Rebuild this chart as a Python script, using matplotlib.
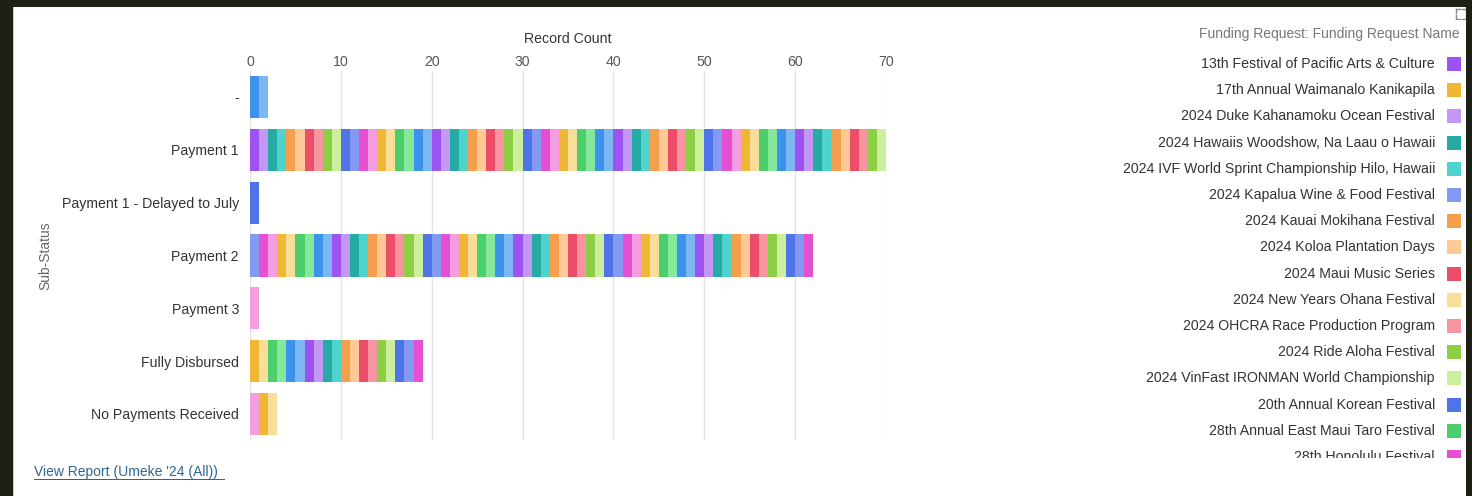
import matplotlib.pyplot as plt
from matplotlib.patches import Rectangle

plt.rcParams['font.family'] = ['Liberation Sans', 'DejaVu Sans']

# record counts per sub-status
sub_status = ['-', 'Payment 1', 'Payment 1 - Delayed to July', 'Payment 2',
              'Payment 3', 'Fully Disbursed', 'No Payments Received']
record_count = [2, 70, 1, 62, 1, 19, 3]

# chart palette, records are coloured in order through it
palette = ['#9d53f2', '#c398f5', '#26aba4', '#4ed4cd', '#f59e4e', '#fdc994',
           '#ec4e6a', '#f893a2', '#8ccf45', '#ccef9d', '#4f73e8', '#8399f2',
           '#e74fd3', '#f49de1', '#efb733', '#f8de99', '#4ccf6b', '#86e89b',
           '#3b93eb', '#7db7f2']
start_color = 18

legend_names = ['13th Festival of Pacific Arts & Culture', '17th Annual Waimanalo Kanikapila',
                '2024 Duke Kahanamoku Ocean Festival', '2024 Hawaiis Woodshow, Na Laau o Hawaii',
                '2024 IVF World Sprint Championship Hilo, Hawaii', '2024 Kapalua Wine & Food Festival',
                '2024 Kauai Mokihana Festival', '2024 Koloa Plantation Days',
                '2024 Maui Music Series', '2024 New Years Ohana Festival',
                '2024 OHCRA Race Production Program', '2024 Ride Aloha Festival',
                '2024 VinFast IRONMAN World Championship', '20th Annual Korean Festival',
                '28th Annual East Maui Taro Festival', '28th Honolulu Festival']
legend_colors = [0, 14, 1, 2, 3, 11, 4, 5, 6, 15, 7, 8, 9, 10, 16, 12]

W, H = 1472, 496
fig = plt.figure(figsize=(W / 100, H / 100), dpi=100)
fig.patch.set_facecolor('white')

# dark page around the white panel
bg = '#1d2016'
for (x0, y0, w, h) in [(0, 0, 13, H), (0, H - 7, W, 7), (1466, 0, 6, H)]:
    fig.patches.append(Rectangle((x0 / W, y0 / H), w / W, h / H, transform=fig.transFigure,
                                 facecolor=bg, edgecolor='none'))
fig.patches.append(Rectangle((13 / W, 0), 1.5 / W, 1 - 7 / H, transform=fig.transFigure,
                             facecolor='#cfcfcf', edgecolor='none'))

ax = fig.add_axes([250 / W, 1 - 440.4 / H, 636 / W, 369.8 / H])
ax.set_facecolor('white')

k = start_color
for i, n in enumerate(record_count):
    for j in range(n):
        ax.barh(i, 1, left=j, height=0.8, color=palette[k % len(palette)], linewidth=0)
        k += 1

ax.set_xlim(0, 70)
ax.set_ylim(len(sub_status) - 0.5, -0.5)
ax.set_yticks(range(len(sub_status)))
ax.set_yticklabels(sub_status, fontsize=10.2, color='#333333')
ax.set_xticks(range(0, 71, 10))
ax.xaxis.tick_top()
ax.xaxis.set_label_position('top')
ax.tick_params(axis='x', labelsize=10.2, labelcolor='#555555', length=0, pad=1.5)
ax.tick_params(axis='y', length=0, pad=8)
ax.grid(axis='x', color='#e3e3e3', linewidth=1)
ax.set_axisbelow(True)
for s in ax.spines.values():
    s.set_visible(False)
ax.set_xlabel('Record Count', fontsize=10.2, color='#333333', labelpad=8)
ax.set_ylabel('Sub-Status', fontsize=10, color='#666666', labelpad=7)

# legend on the right, cut off at the bottom like the original
fig.text(1460 / W, 1 - 34 / H, 'Funding Request: Funding Request Name', ha='right', va='center',
         fontsize=10, color='#777777')
lax = fig.add_axes([1100 / W, 1 - 458 / H, 370 / W, 409 / H])
lax.set_xlim(1100, 1470)
lax.set_ylim(458, 49)
lax.axis('off')
for i, (name, c) in enumerate(zip(legend_names, legend_colors)):
    y = 64 + i * 26.2
    t = lax.text(1435, y, name, ha='right', va='center', fontsize=10.2, color='#333333')
    t.set_clip_on(True)
    lax.add_patch(Rectangle((1447, y - 7), 14, 14, facecolor=palette[c], edgecolor='none'))

# small expand icon (four corner ticks)
iax = fig.add_axes([1455 / W, 1 - 20 / H, 12 / W, 12 / H])
iax.axis('off')
iax.set_xlim(0, 1)
iax.set_ylim(0, 1)
for (cx, cy, dx, dy) in [(0.1, 0.9, 1, -1), (0.9, 0.9, -1, -1), (0.1, 0.1, 1, 1), (0.9, 0.1, -1, 1)]:
    iax.plot([cx, cx + 0.3 * dx], [cy, cy], color='#888888', lw=1)
    iax.plot([cx, cx], [cy, cy + 0.3 * dy], color='#888888', lw=1)

fig.text(34 / W, 1 - 472 / H, "View Report (Umeke '24 (All))", ha='left', va='center',
         fontsize=10, color='#2f6690')
fig.patches.append(Rectangle((34 / W, 1 - 480 / H), 191 / W, 1 / H, transform=fig.transFigure,
                             facecolor='#2f6690', edgecolor='none'))

fig.savefig('out.png', dpi=100, facecolor='white')
